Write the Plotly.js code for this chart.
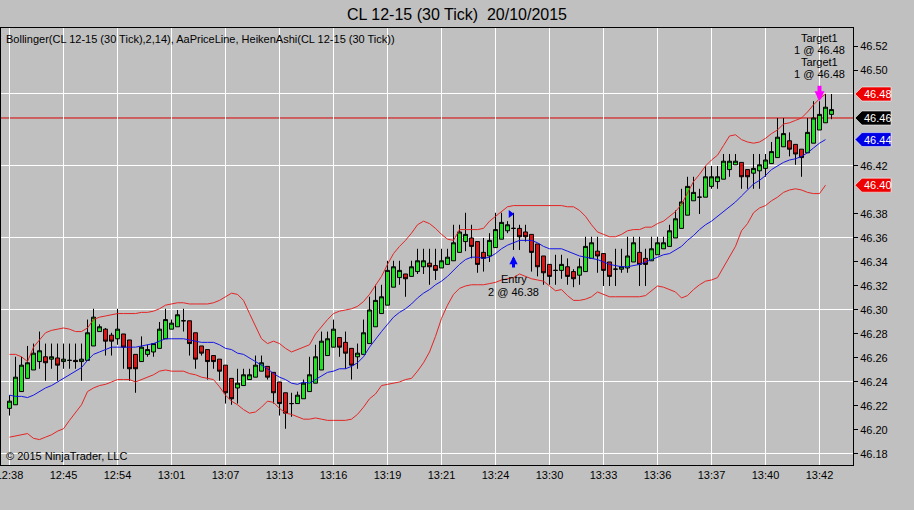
<!DOCTYPE html>
<html>
<head>
<meta charset="utf-8">
<script src="https://cdn.plot.ly/plotly-3.0.1.min.js"></script>
<style>
html,body{margin:0;padding:0;background:#c0c0c0;}
#chart{width:914px;height:510px;}
</style>
</head>
<body>
<div id="chart"></div>
<script>
// ---------- DATA ----------
const opens = [46.218,46.221,46.232,46.243,46.250,46.257,46.261,46.259,46.260,46.257,
46.258,46.258,46.257,46.258,46.270,46.282,46.284,46.279,46.276,46.280,
46.275,46.263,46.257,46.263,46.265,46.268,46.276,46.284,46.286,46.291,
46.291,46.281,46.270,46.267,46.262,46.259,46.254,46.243,46.235,46.237,
46.242,46.244,46.249,46.253,46.248,46.240,46.231,46.222,46.222,46.226,
46.232,46.239,46.250,46.262,46.269,46.277,46.273,46.268,46.261,46.263,
46.272,46.286,46.297,46.304,46.319,46.327,46.330,46.328,46.332,46.336,
46.339,46.337,46.335,46.338,46.341,46.348,46.357,46.360,46.357,46.348,
46.345,46.352,46.359,46.366,46.368,46.368,46.365,46.363,46.355,46.345,
46.338,46.333,46.333,46.336,46.332,46.329,46.332,46.343,46.349,46.347,
46.340,46.334,46.334,46.335,46.340,46.348,46.343,46.341,46.346,46.351,
46.353,46.360,46.368,46.379,46.391,46.394,46.394,46.403,46.407,46.409,
46.417,46.421,46.423,46.417,46.414,46.416,46.418,46.422,46.427,46.436,
46.441,46.438,46.434,46.431,46.439,46.450,46.456,46.463];

const highs = [46.229,46.261,46.261,46.270,46.272,46.282,46.272,46.272,46.272,46.272,
46.272,46.272,46.272,46.292,46.301,46.288,46.285,46.281,46.301,46.280,
46.275,46.263,46.278,46.271,46.272,46.290,46.301,46.292,46.300,46.301,
46.291,46.281,46.270,46.267,46.262,46.259,46.254,46.243,46.251,46.251,
46.251,46.262,46.262,46.253,46.248,46.240,46.231,46.231,46.232,46.242,
46.261,46.271,46.282,46.282,46.292,46.277,46.282,46.268,46.272,46.292,
46.311,46.321,46.321,46.341,46.341,46.341,46.330,46.341,46.351,46.351,
46.351,46.351,46.351,46.351,46.371,46.371,46.381,46.371,46.357,46.360,
46.364,46.381,46.381,46.374,46.381,46.371,46.371,46.363,46.355,46.345,
46.338,46.346,46.346,46.343,46.334,46.343,46.361,46.361,46.361,46.347,
46.340,46.351,46.351,46.361,46.361,46.361,46.351,46.361,46.361,46.361,
46.371,46.383,46.401,46.411,46.411,46.401,46.420,46.420,46.420,46.430,
46.430,46.430,46.423,46.417,46.430,46.430,46.430,46.440,46.460,46.460,
46.448,46.438,46.434,46.460,46.474,46.474,46.480,46.480];

const lows = [46.212,46.221,46.232,46.243,46.250,46.251,46.241,46.251,46.241,46.251,
46.251,46.251,46.241,46.258,46.270,46.282,46.262,46.262,46.271,46.251,
46.241,46.231,46.257,46.261,46.261,46.268,46.276,46.284,46.286,46.282,
46.262,46.251,46.262,46.242,46.251,46.241,46.222,46.221,46.222,46.237,
46.242,46.244,46.249,46.242,46.222,46.212,46.201,46.211,46.222,46.226,
46.232,46.239,46.250,46.262,46.269,46.261,46.251,46.242,46.251,46.263,
46.272,46.286,46.297,46.304,46.319,46.321,46.311,46.328,46.330,46.330,
46.321,46.325,46.335,46.338,46.341,46.348,46.349,46.343,46.331,46.332,
46.340,46.352,46.359,46.364,46.350,46.350,46.357,46.332,46.328,46.321,
46.321,46.321,46.326,46.321,46.319,46.321,46.332,46.343,46.331,46.320,
46.320,46.320,46.331,46.331,46.340,46.320,46.320,46.341,46.346,46.351,
46.353,46.360,46.368,46.379,46.391,46.380,46.394,46.401,46.401,46.409,
46.411,46.421,46.401,46.401,46.401,46.401,46.411,46.422,46.427,46.436,
46.428,46.421,46.411,46.431,46.439,46.450,46.456,46.459];

const closes = [46.224,46.244,46.254,46.256,46.264,46.266,46.256,46.261,46.254,46.259,
46.258,46.257,46.259,46.281,46.294,46.286,46.274,46.274,46.284,46.269,
46.251,46.251,46.269,46.267,46.272,46.284,46.292,46.289,46.296,46.291,
46.272,46.259,46.264,46.257,46.257,46.249,46.231,46.226,46.239,46.246,
46.246,46.254,46.256,46.244,46.231,46.222,46.214,46.222,46.229,46.239,
46.246,46.261,46.274,46.276,46.284,46.269,46.264,46.254,46.264,46.281,
46.300,46.308,46.311,46.333,46.336,46.333,46.326,46.336,46.341,46.341,
46.336,46.333,46.341,46.344,46.356,46.365,46.363,46.353,46.338,46.343,
46.358,46.367,46.373,46.371,46.368,46.361,46.361,46.348,46.336,46.331,
46.328,46.333,46.338,46.328,46.326,46.336,46.353,46.356,46.345,46.333,
46.328,46.334,46.336,46.345,46.356,46.338,46.338,46.351,46.356,46.356,
46.366,46.376,46.390,46.403,46.398,46.394,46.411,46.411,46.411,46.424,
46.424,46.424,46.411,46.411,46.418,46.421,46.425,46.432,46.444,46.447,
46.434,46.430,46.427,46.448,46.460,46.463,46.469,46.467];

const bbUpper = [46.263,46.263,46.261,46.257,46.269,46.275,46.281,46.283,46.284,46.285,
46.284,46.282,46.282,46.285,46.292,46.294,46.295,46.296,46.297,46.297,
46.297,46.297,46.298,46.298,46.299,46.301,46.304,46.305,46.306,46.306,
46.305,46.305,46.305,46.305,46.306,46.308,46.311,46.314,46.313,46.308,
46.297,46.286,46.276,46.272,46.274,46.272,46.268,46.265,46.267,46.269,
46.271,46.280,46.286,46.292,46.297,46.299,46.300,46.301,46.303,46.307,
46.313,46.320,46.328,46.338,46.347,46.353,46.358,46.364,46.371,46.374,
46.372,46.368,46.363,46.359,46.358,46.367,46.367,46.367,46.367,46.368,
46.374,46.378,46.382,46.386,46.387,46.387,46.387,46.387,46.387,46.387,
46.387,46.387,46.387,46.386,46.386,46.383,46.378,46.371,46.365,46.363,
46.361,46.361,46.363,46.366,46.367,46.367,46.369,46.369,46.372,46.374,
46.378,46.382,46.388,46.398,46.407,46.413,46.420,46.425,46.429,46.437,
46.445,46.446,46.442,46.440,46.439,46.440,46.443,46.447,46.450,46.455,
46.456,46.458,46.460,46.465,46.471,46.476,46.480,null];

const bbMiddle = [46.229,46.228,46.228,46.227,46.229,46.232,46.235,46.237,46.240,46.243,
46.246,46.249,46.252,46.258,46.263,46.265,46.267,46.269,46.269,46.269,
46.269,46.269,46.270,46.271,46.272,46.274,46.276,46.276,46.276,46.276,
46.275,46.274,46.273,46.273,46.273,46.271,46.268,46.267,46.264,46.263,
46.260,46.257,46.254,46.251,46.247,46.244,46.242,46.239,46.238,46.240,
46.239,46.242,46.245,46.248,46.249,46.251,46.251,46.253,46.256,46.261,
46.269,46.276,46.282,46.288,46.294,46.298,46.301,46.305,46.310,46.314,
46.317,46.321,46.324,46.328,46.333,46.338,46.342,46.344,46.344,46.343,
46.344,46.347,46.351,46.354,46.356,46.358,46.358,46.358,46.356,46.353,
46.351,46.351,46.351,46.349,46.347,46.345,46.344,46.343,46.342,46.340,
46.338,46.337,46.336,46.336,46.337,46.338,46.340,46.342,46.344,46.346,
46.347,46.350,46.353,46.358,46.362,46.367,46.371,46.374,46.378,46.382,
46.386,46.390,46.395,46.400,46.405,46.408,46.412,46.417,46.420,46.423,
46.425,46.426,46.428,46.431,46.435,46.439,46.442,null];

const bbLower = [46.194,46.195,46.196,46.197,46.193,46.192,46.194,46.196,46.199,46.201,
46.208,46.215,46.221,46.232,46.235,46.237,46.238,46.240,46.242,46.242,
46.242,46.240,46.242,46.244,46.246,46.249,46.250,46.249,46.249,46.249,
46.247,46.246,46.244,46.243,46.242,46.236,46.229,46.224,46.221,46.217,
46.214,46.215,46.219,46.224,46.223,46.218,46.214,46.213,46.211,46.209,
46.209,46.210,46.209,46.208,46.208,46.208,46.208,46.209,46.213,46.219,
46.226,46.230,46.237,46.238,46.239,46.240,46.242,46.243,46.249,46.256,
46.265,46.278,46.293,46.304,46.313,46.318,46.320,46.321,46.321,46.321,
46.322,46.323,46.325,46.326,46.327,46.330,46.328,46.326,46.325,46.324,
46.320,46.316,46.317,46.312,46.308,46.308,46.309,46.311,46.315,46.313,
46.311,46.311,46.311,46.311,46.311,46.311,46.312,46.316,46.320,46.319,
46.317,46.315,46.310,46.312,46.317,46.321,46.324,46.325,46.327,46.336,
46.344,46.353,46.366,46.372,46.381,46.385,46.387,46.391,46.394,46.398,
46.400,46.401,46.400,46.398,46.397,46.397,46.404,null];

const timeLabels = ["12:38","12:45","12:54","13:01","13:07","13:13","13:16","13:19",
                    "13:21","13:24","13:30","13:33","13:36","13:37","13:40","13:42"];
const barsPerLabel = 9;
const priceTicks = [46.18,46.20,46.22,46.24,46.26,46.28,46.30,46.32,46.34,46.36,
                    46.38,46.40,46.42,46.44,46.46,46.48,46.50,46.52];

const lastPrice = 46.46;
const entryBar = 84, entryPrice = 46.38, entryQty = 2;
const exitBar = 135, exitPrice = 46.48, exitQty = 1, exitName = "Target1";

// ---------- CHART ----------
const FONT = '"Liberation Sans", Arial, sans-serif';
const BG = '#c0c0c0';
const yMin = 46.1708, yMax = 46.535;
const bars = opens.map((_, i) => i);
const tickvals = timeLabels.map((_, k) => k * barsPerLabel);
const lastBand = bars.length - 2;
const yFrac = v => (v - yMin) / (yMax - yMin);

const traces = [
  {type:'scatter', mode:'lines', x:bars, y:bbUpper, line:{color:'rgb(228,36,36)', width:1}, hoverinfo:'skip'},
  {type:'scatter', mode:'lines', x:bars, y:bbLower, line:{color:'rgb(228,36,36)', width:1}, hoverinfo:'skip'},
  {type:'scatter', mode:'lines', x:bars, y:bbMiddle, line:{color:'rgb(20,20,230)', width:1}, hoverinfo:'skip'},
  {type:'candlestick', x:bars, open:opens, high:highs, low:lows, close:closes,
   increasing:{line:{color:'#000', width:1}, fillcolor:'#22e022'},
   decreasing:{line:{color:'#000', width:1}, fillcolor:'#dc1414'},
   whiskerwidth:0, hoverinfo:'skip'},
  {type:'scatter', mode:'markers', x:[entryBar - 0.5], y:[entryPrice],
   marker:{symbol:'triangle-right', size:7, color:'#0000ff'}, hoverinfo:'skip'},
  {type:'scatter', mode:'markers', x:[null], y:[null], yaxis:'y2', hoverinfo:'skip'}
];

const flags = [
  {v: bbUpper[lastBand], c:'#ee0000'},
  {v: lastPrice, c:'#000000'},
  {v: bbMiddle[lastBand], c:'#0000e6'},
  {v: bbLower[lastBand], c:'#ee0000'}
];
// price labels that would sit under a flag are left out
const shownTicks = priceTicks.filter(t => flags.every(f => Math.abs(f.v - t) > 0.008));

const shapes = [
  {type:'line', xref:'paper', x0:0, x1:1, yref:'y', y0:lastPrice, y1:lastPrice,
   line:{color:'#d60000', width:1}, layer:'below'}
];
flags.forEach(f => {
  shapes.push({type:'path', xref:'paper', xsizemode:'pixel', xanchor:1,
    yref:'paper', ysizemode:'pixel', yanchor:yFrac(f.v),
    path:'M2,0 L9,7 L38,7 L38,-7 L9,-7 Z', fillcolor:f.c,
    line:{color:'rgba(255,255,255,0.55)', width:1}, layer:'above'});
});

const annotations = [
  {xref:'paper', yref:'paper', x:0, y:1, xanchor:'left', yanchor:'top', xshift:3, yshift:-3,
   text:'Bollinger(CL 12-15 (30 Tick),2,14), AaPriceLine, HeikenAshi(CL 12-15 (30 Tick))',
   showarrow:false, font:{family:FONT, size:11, color:'#000'}},
  {xref:'paper', yref:'paper', x:0, y:0, xanchor:'left', yanchor:'bottom', xshift:3, yshift:1,
   text:'\u00a9 2015 NinjaTrader, LLC', showarrow:false, font:{family:FONT, size:11, color:'#000'}},
  // entry arrow
  {x:entryBar, y:lows[entryBar], xref:'x', yref:'y', text:'', showarrow:true, ax:0, ay:19,
   arrowhead:2, arrowwidth:3, arrowsize:0.55, arrowcolor:'#0000ff', standoff:6},
  {x:entryBar, y:lows[entryBar], xref:'x', yref:'y', text:'Entry', showarrow:false,
   yanchor:'middle', yshift:-29, font:{family:FONT, size:11, color:'#000'}},
  {x:entryBar, y:lows[entryBar], xref:'x', yref:'y', text:entryQty + ' @ ' + entryPrice.toFixed(2), showarrow:false,
   yanchor:'middle', yshift:-42, font:{family:FONT, size:11, color:'#000'}},
  // exit arrow
  {x:exitBar, y:highs[exitBar], xref:'x', yref:'y', text:'', showarrow:true, ax:0, ay:-17,
   arrowhead:2, arrowwidth:4, arrowsize:0.5, arrowcolor:'#ff00ff', standoff:0}
];
const exitLines = [exitName, exitQty + ' @ ' + exitPrice.toFixed(2), exitName, exitQty + ' @ ' + exitPrice.toFixed(2)];
exitLines.forEach((t, k) => {
  annotations.push({x:exitBar, y:exitPrice, xref:'x', yref:'y', text:t, showarrow:false,
    yanchor:'middle', yshift:56 - 12 * k, font:{family:FONT, size:11, color:'#000'}});
});
flags.forEach(f => {
  annotations.push({xref:'paper', yref:'paper', x:1, y:yFrac(f.v), xanchor:'left', yanchor:'middle',
    xshift:9, text:f.v.toFixed(2), showarrow:false, font:{family:FONT, size:11, color:'#fff'}});
});

const layout = {
  width:914, height:510,
  margin:{l:1, r:61, t:28, b:45, pad:0},
  paper_bgcolor:BG, plot_bgcolor:BG,
  showlegend:false,
  boxgap:0.3333, boxgroupgap:0,
  title:{text:'CL 12-15 (30 Tick)\u00a0 20/10/2015', x:0.5, xanchor:'center', y:1 - 14/510, yanchor:'middle',
         font:{family:FONT, size:16, color:'#000'}},
  xaxis:{range:[-1.4167, 140.5833], tickmode:'array', tickvals:tickvals, ticktext:timeLabels,
         ticklabeloverflow:'allow',
         showgrid:true, gridcolor:'#ffffff', gridwidth:1, zeroline:false,
         showline:true, linecolor:'#000', linewidth:1, mirror:true, ticks:'',
         tickfont:{family:FONT, size:11, color:'#000'}, rangeslider:{visible:false}, fixedrange:true},
  yaxis:{range:[yMin, yMax], side:'right', tick0:46.18, dtick:0.06, showgrid:true, gridcolor:'#ffffff',
         gridwidth:1, showticklabels:false, ticks:'', zeroline:false,
         showline:true, linecolor:'#000', linewidth:1, mirror:true, fixedrange:true},
  yaxis2:{range:[yMin, yMax], overlaying:'y', side:'right', tickmode:'array', tickvals:shownTicks,
          showgrid:false, ticks:'outside', ticklen:4, tickcolor:'#000', tickformat:'.2f',
          zeroline:false, showline:false,
          tickfont:{family:FONT, size:11, color:'#000'}, fixedrange:true},
  shapes:shapes,
  annotations:annotations
};

Plotly.newPlot('chart', traces, layout, {displayModeBar:false, staticPlot:true});
</script>
</body>
</html>
